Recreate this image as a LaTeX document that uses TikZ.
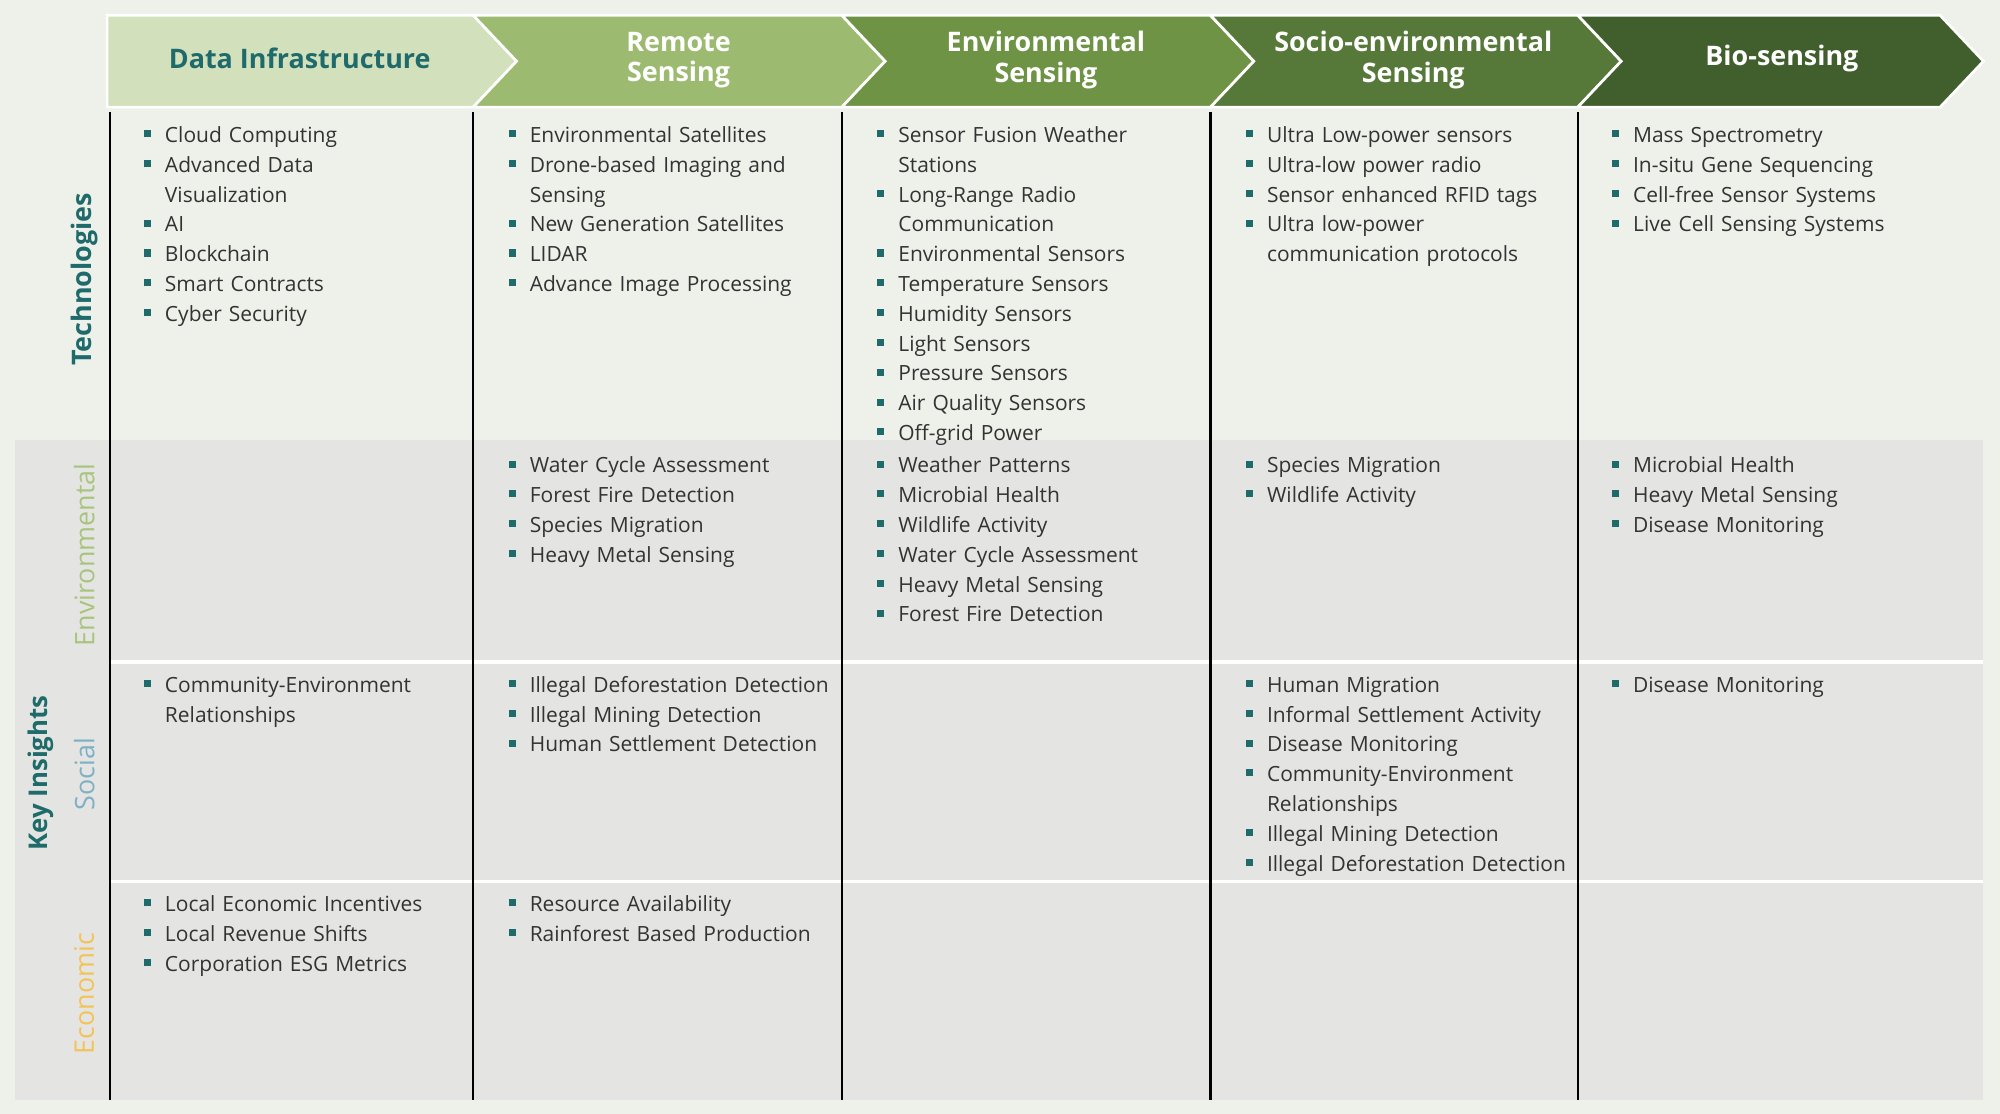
\documentclass[tikz,border=0pt]{standalone}
\usepackage{fontspec}
\setmainfont{Open Sans}
\usepackage{enumitem}
\definecolor{pagebg}{HTML}{EEF0EA}
\definecolor{rowgrey}{HTML}{E4E5E2}
\definecolor{teal}{HTML}{1F6B6B}
\definecolor{hdA}{HTML}{D3E0BC}
\definecolor{hdB}{HTML}{9DBB70}
\definecolor{hdC}{HTML}{6E9345}
\definecolor{hdD}{HTML}{56793A}
\definecolor{hdE}{HTML}{405F2C}
\definecolor{envgreen}{HTML}{A9C47F}
\definecolor{socblue}{HTML}{7FB0C6}
\definecolor{ecoyellow}{HTML}{F3C35A}
\newcommand{\bulletsq}{\textcolor{teal}{\rule[0.25em]{1.1mm}{1.1mm}}}
\newenvironment{celllist}{\begin{itemize}[label=\bulletsq,leftmargin=3.4mm,labelsep=2.2mm,itemsep=0pt,parsep=0pt,topsep=0pt,partopsep=0pt]}{\end{itemize}}
\tikzset{
  hdr/.style={draw=white,line width=1.2pt},
  hdtext/.style={font=\fontsize{12}{13.5}\selectfont\bfseries,text=white,align=center},
  cell/.style={anchor=north west,inner sep=0pt,text width=54mm,font=\fontsize{9.35}{13.3}\selectfont,text=black!80},
  sidelbl/.style={rotate=90,font=\fontsize{12}{14}\selectfont}
}
\begin{document}
\begin{tikzpicture}[x=0.2mm,y=-0.2mm]
\useasboundingbox (0,0) rectangle (1568,873);
\fill[pagebg] (0,0) rectangle (1568,873);
% rows
\fill[rowgrey] (12,345) rectangle (1555,862);
\draw[white,line width=1.5pt] (86,519) -- (1555,519) (86,691) -- (1555,691);
% header chevrons
\fill[hdA,hdr] (84,12) -- (371,12) -- (405,48) -- (371,84) -- (84,84) -- cycle;
\fill[hdB,hdr] (371,12) -- (660,12) -- (694,48) -- (660,84) -- (371,84) -- (405,48) -- cycle;
\fill[hdC,hdr] (660,12) -- (949,12) -- (983,48) -- (949,84) -- (660,84) -- (694,48) -- cycle;
\fill[hdD,hdr] (949,12) -- (1237,12) -- (1271,48) -- (1237,84) -- (949,84) -- (983,48) -- cycle;
\fill[hdE,hdr] (1237,12) -- (1521,12) -- (1555,48) -- (1521,84) -- (1237,84) -- (1271,48) -- cycle;
\node[hdtext,text=teal] (hdata) at (235,46) {Data Infrastructure};
\node[hdtext] (hremote) at (532,47) {Remote\\Sensing};
\node[hdtext] (henv) at (820,47) {Environmental\\Sensing};
\node[hdtext] (hsocio) at (1108,47) {Socio-environmental\\Sensing};
\node[hdtext] (hbio) at (1397,46) {Bio-sensing};
% column rules
\foreach \cx in {86,371,660,949,1237}
  \draw[black,line width=1pt] (\cx,88) -- (\cx,862);
% side labels
\node[sidelbl,text=teal,font=\fontsize{12}{14}\selectfont\bfseries] (ltech) at (66,219) {Technologies};
\node[sidelbl,text=envgreen] (lenv) at (66,435) {Environmental};
\node[sidelbl,text=socblue] (lsoc) at (66,607) {Social};
\node[sidelbl,text=ecoyellow] (leco) at (66,779) {Economic};
\node[sidelbl,text=teal,font=\fontsize{11.5}{14}\selectfont\bfseries] (lkey) at (32,606) {Key Insights};
% technologies
\node[cell] (tdata) at (112,88) {\begin{celllist}
\item Cloud Computing
\item Advanced Data\newline Visualization
\item AI
\item Blockchain
\item Smart Contracts
\item Cyber Security
\end{celllist}};
\node[cell] (tremote) at (398,88) {\begin{celllist}
\item Environmental Satellites
\item Drone-based Imaging and\newline Sensing
\item New Generation Satellites
\item LIDAR
\item Advance Image Processing
\end{celllist}};
\node[cell] (tenv) at (687,88) {\begin{celllist}
\item Sensor Fusion Weather\newline Stations
\item Long-Range Radio\newline Communication
\item Environmental Sensors
\item Temperature Sensors
\item Humidity Sensors
\item Light Sensors
\item Pressure Sensors
\item Air Quality Sensors
\item Off-grid Power
\end{celllist}};
\node[cell] (tsocio) at (976,88) {\begin{celllist}
\item Ultra Low-power sensors
\item Ultra-low power radio
\item Sensor enhanced RFID tags
\item Ultra low-power\newline communication protocols
\end{celllist}};
\node[cell] (tbio) at (1263,88) {\begin{celllist}
\item Mass Spectrometry
\item In-situ Gene Sequencing
\item Cell-free Sensor Systems
\item Live Cell Sensing Systems
\end{celllist}};
% environmental insights
\node[cell] (eremote) at (398,347) {\begin{celllist}
\item Water Cycle Assessment
\item Forest Fire Detection
\item Species Migration
\item Heavy Metal Sensing
\end{celllist}};
\node[cell] (eenv) at (687,347) {\begin{celllist}
\item Weather Patterns
\item Microbial Health
\item Wildlife Activity
\item Water Cycle Assessment
\item Heavy Metal Sensing
\item Forest Fire Detection
\end{celllist}};
\node[cell] (esocio) at (976,347) {\begin{celllist}
\item Species Migration
\item Wildlife Activity
\end{celllist}};
\node[cell] (ebio) at (1263,347) {\begin{celllist}
\item Microbial Health
\item Heavy Metal Sensing
\item Disease Monitoring
\end{celllist}};
% social insights
\node[cell] (sdata) at (112,519) {\begin{celllist}
\item Community-Environment\newline Relationships
\end{celllist}};
\node[cell] (sremote) at (398,519) {\begin{celllist}
\item Illegal Deforestation Detection
\item Illegal Mining Detection
\item Human Settlement Detection
\end{celllist}};
\node[cell] (ssocio) at (976,519) {\begin{celllist}
\item Human Migration
\item Informal Settlement Activity
\item Disease Monitoring
\item Community-Environment\newline Relationships
\item Illegal Mining Detection
\item Illegal Deforestation Detection
\end{celllist}};
\node[cell] (sbio) at (1263,519) {\begin{celllist}
\item Disease Monitoring
\end{celllist}};
% economic insights
\node[cell] (cdata) at (112,691) {\begin{celllist}
\item Local Economic Incentives
\item Local Revenue Shifts
\item Corporation ESG Metrics
\end{celllist}};
\node[cell] (cremote) at (398,691) {\begin{celllist}
\item Resource Availability
\item Rainforest Based Production
\end{celllist}};
\end{tikzpicture}
\end{document}
